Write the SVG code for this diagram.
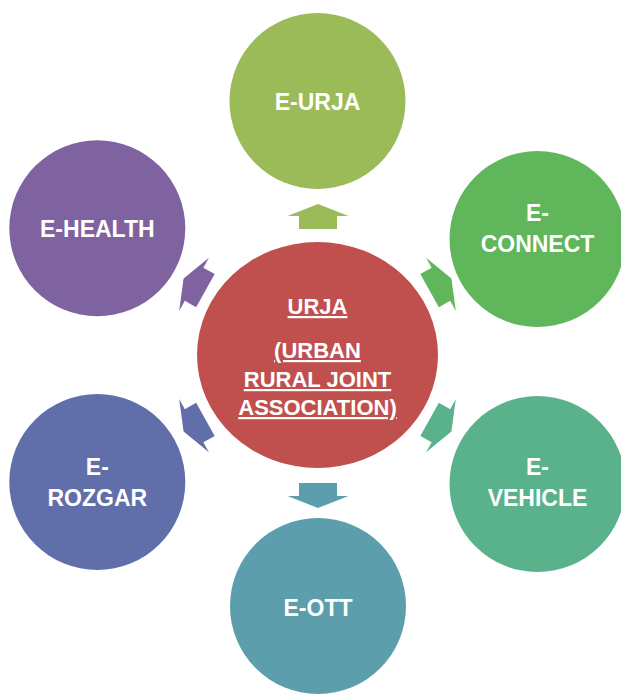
<svg xmlns="http://www.w3.org/2000/svg" width="621" height="694" viewBox="0 0 621 694">
<defs>
<style>
.lbl{font-family:"Liberation Sans",Arial,sans-serif;font-weight:bold;fill:#ffffff;text-anchor:middle;font-size:23px}
.ctr{font-size:22px;text-decoration:underline}
</style>
<path id="arr" d="M0,-12.5 L30.5,-0.5 L19,-0.5 L19,12.5 L-19,12.5 L-19,-0.5 L-30.5,-0.5 Z"/>
</defs>
<rect width="621" height="694" fill="#ffffff"/>
<g id="connectors">
<use href="#arr" fill="#9BBB59" transform="translate(318,216.5)"/>
<use href="#arr" fill="#60B65A" transform="translate(440.5,284.5) rotate(60.8)"/>
<use href="#arr" fill="#5AB28C" transform="translate(440.5,425.5) rotate(119.2)"/>
<use href="#arr" fill="#5C9EAC" transform="translate(318,495.5) rotate(180)"/>
<use href="#arr" fill="#606EAA" transform="translate(194.5,425.5) rotate(-119.2)"/>
<use href="#arr" fill="#7F63A1" transform="translate(194.5,284.5) rotate(-60.8)"/>
</g>
<g id="center">
<ellipse cx="317.5" cy="355" rx="120.5" ry="113" fill="#C0504D"/>
<text class="lbl ctr" x="317.5" y="314">URJA</text>
<text class="lbl ctr" x="317.5" y="358">(URBAN</text>
<text class="lbl ctr" x="317.5" y="387">RURAL JOINT</text>
<text class="lbl ctr" x="317.5" y="415">ASSOCIATION)</text>
</g>
<g id="e-urja">
<circle cx="317.5" cy="101" r="88" fill="#9BBB59"/>
<text class="lbl" x="317.5" y="110">E-URJA</text>
</g>
<g id="e-connect">
<circle cx="537.5" cy="239" r="88" fill="#60B65A"/>
<text class="lbl" x="537.5" y="221">E-</text>
<text class="lbl" x="537.5" y="252">CONNECT</text>
</g>
<g id="e-vehicle">
<circle cx="537.5" cy="484" r="88" fill="#5AB28C"/>
<text class="lbl" x="537.5" y="475">E-</text>
<text class="lbl" x="537.5" y="506">VEHICLE</text>
</g>
<g id="e-ott">
<circle cx="318" cy="606" r="88" fill="#5C9EAC"/>
<text class="lbl" x="318" y="616">E-OTT</text>
</g>
<g id="e-rozgar">
<circle cx="97.3" cy="482" r="88" fill="#606EAA"/>
<text class="lbl" x="97.3" y="475">E-</text>
<text class="lbl" x="97.3" y="506">ROZGAR</text>
</g>
<g id="e-health">
<circle cx="97.3" cy="228.3" r="88" fill="#7F63A1"/>
<text class="lbl" x="97.3" y="237">E-HEALTH</text>
</g>
</svg>
